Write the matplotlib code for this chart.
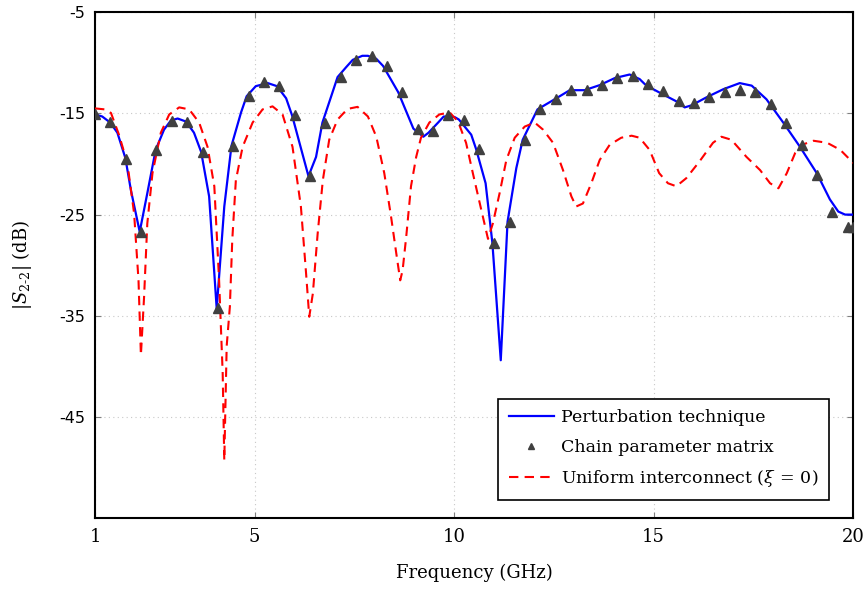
import numpy as np
import matplotlib
matplotlib.use("Agg")
import matplotlib.pyplot as plt

plt.rcParams['font.family'] = 'DejaVu Serif'
plt.rcParams['mathtext.fontset'] = 'dejavuserif'

# chain parameter matrix samples (triangles)
chain_freq = np.append(np.arange(1, 19.9, 0.385), 20.0)
chain_db = [-15.1, -15.8, -19.5, -26.7, -18.6, -15.7, -15.8, -18.8, -34.2, -18.2,
            -13.3, -11.9, -12.3, -15.2, -21.2, -15.9, -11.4, -9.7, -9.3, -10.3,
            -12.9, -16.5, -16.7, -15.2, -15.6, -18.5, -27.8, -25.7, -17.6, -14.6,
            -13.6, -12.7, -12.7, -12.2, -11.5, -11.3, -12.1, -12.8, -13.8, -14.0,
            -13.4, -12.9, -12.7, -12.9, -14.1, -15.9, -18.1, -21.1, -24.7, -26.2,
            -26.2]

# perturbation technique (solid blue)
pert_freq = [1.00, 1.18, 1.38, 1.56, 1.76, 1.90, 2.12, 2.31, 2.52, 2.73,
             2.90, 3.07, 3.28, 3.48, 3.66, 3.86, 4.05, 4.24, 4.42, 4.66,
             4.80, 5.03, 5.33, 5.56, 5.79, 5.94, 6.35, 6.54, 6.70, 6.92,
             7.08, 7.30, 7.46, 7.70, 7.84, 8.05, 8.22, 8.60, 8.98, 9.23,
             9.36, 9.60, 9.74, 10.01, 10.12, 10.43, 10.55, 10.79, 10.96, 11.17,
             11.34, 11.56, 11.72, 11.93, 12.09, 12.52, 12.90, 13.27, 13.65, 14.03,
             14.40, 14.65, 14.78, 14.99, 15.18, 15.57, 15.78, 15.95, 16.33, 16.75,
             17.16, 17.46, 17.83, 18.25, 18.67, 19.09, 19.42, 19.63, 19.80, 20.00]
pert_db = [-15.1, -15.3, -15.9, -16.9, -19.4, -22.6, -26.7, -22.9, -18.6, -16.6,
           -15.7, -15.5, -15.8, -16.9, -18.8, -23.2, -34.3, -24.2, -18.2, -14.9,
           -13.3, -12.3, -12.0, -12.3, -13.5, -15.2, -21.2, -19.3, -15.9, -13.3,
           -11.4, -10.4, -9.7, -9.3, -9.3, -9.6, -10.3, -12.9, -16.5, -17.3,
           -16.9, -15.9, -15.3, -15.35, -15.6, -17.1, -18.5, -21.9, -27.8, -39.4,
           -25.7, -20.4, -17.6, -15.9, -14.6, -13.6, -12.7, -12.7, -12.2, -11.5,
           -11.15, -11.6, -12.1, -12.6, -13.0, -13.8, -14.4, -14.2, -13.4, -12.6,
           -12.0, -12.25, -13.6, -15.9, -18.3, -20.9, -23.5, -24.7, -25.0, -25.0]

# uniform interconnect (dashed red)
unif_freq = [1.00, 1.25, 1.40, 1.60, 1.81, 1.98, 2.09, 2.15, 2.23, 2.31,
             2.44, 2.65, 2.86, 3.11, 3.36, 3.61, 3.82, 3.99, 4.11, 4.20,
             4.24, 4.30, 4.38, 4.44, 4.53, 4.70, 4.95, 5.20, 5.45, 5.70,
             5.95, 6.16, 6.29, 6.37, 6.46, 6.58, 6.71, 6.87, 7.08, 7.33,
             7.58, 7.84, 8.05, 8.25, 8.42, 8.55, 8.65, 8.71, 8.80, 8.92,
             9.05, 9.17, 9.38, 9.63, 9.89, 10.10, 10.30, 10.47, 10.68, 10.85,
             10.97, 11.14, 11.31, 11.52, 11.77, 12.02, 12.23, 12.48, 12.73, 12.94,
             13.06, 13.23, 13.44, 13.65, 13.90, 14.19, 14.45, 14.65, 14.90, 15.14,
             15.36, 15.57, 15.82, 16.15, 16.49, 16.70, 16.95, 17.33, 17.67, 17.92,
             18.13, 18.34, 18.55, 18.72, 19.01, 19.35, 19.68, 19.97, 20.00]
unif_db = [-14.5, -14.6, -14.95, -17.1, -19.9, -24.9, -31.5, -38.9, -33.1, -25.9,
           -20.9, -16.9, -15.1, -14.4, -14.6, -15.9, -18.3, -22.2, -31.5, -40.7,
           -49.3, -38.0, -34.1, -27.5, -21.6, -18.3, -15.9, -14.6, -14.3, -15.1,
           -18.3, -24.2, -30.8, -35.1, -32.8, -26.9, -21.6, -17.6, -15.6, -14.55,
           -14.35, -15.3, -17.3, -20.9, -25.2, -28.8, -31.5, -30.5, -27.2, -22.2,
           -19.3, -17.4, -15.9, -15.1, -14.9, -15.8, -17.9, -20.9, -24.5, -27.4,
           -25.9, -22.9, -19.6, -17.4, -16.3, -15.9, -16.6, -17.9, -20.6, -23.2,
           -24.2, -23.9, -21.9, -19.6, -18.1, -17.4, -17.2, -17.4, -18.6, -20.9,
           -21.9, -22.2, -21.4, -19.75, -17.9, -17.3, -17.6, -19.3, -20.6, -21.9,
           -22.4, -20.9, -18.9, -18.1, -17.7, -17.9, -18.6, -19.75, -19.9]

xticks = [1, 5, 10, 15, 20]
yticks = [-5, -15, -25, -35, -45]
ytick_labels = ['-5', '-15', '-25', '-35', '-45']

fig = plt.figure(figsize=(8.67, 5.89), dpi=100)
ax = fig.add_axes([0.1096, 0.1205, 0.8743, 0.8586])

ax.plot(pert_freq, pert_db, color='blue', lw=1.6, label='Perturbation technique', zorder=3)
ax.plot(chain_freq, chain_db, linestyle='none', marker='^', ms=6.5, color='#404040',
        label='Chain parameter matrix', zorder=4)
ax.plot(unif_freq, unif_db, color='red', lw=1.5, ls=(0, (4.5, 3)),
        label=r'Uniform interconnect ($\xi\,=\,0$)', zorder=3)

ax.set_xlim(1, 20)
ax.set_ylim(-55, -5)
ax.set_xticks(xticks)
ax.set_xticklabels([str(t) for t in xticks], fontsize=13)
ax.set_yticks(yticks)
ax.set_yticklabels(ytick_labels, fontsize=11.5, family='DejaVu Sans')

ax.grid(True, color='#c8c8c8', ls=(0, (1, 3)), lw=0.8)
ax.tick_params(direction='in', length=4, color='#808080', top=True, right=True, pad=7)
for s in ax.spines.values():
    s.set_linewidth(1.5)

ax.set_xlabel('Frequency (GHz)', fontsize=13, labelpad=13)
ax.set_ylabel(r'$|S_{2\text{-}2}|$ (dB)', fontsize=13, labelpad=18)

leg = ax.legend(loc='lower right', bbox_to_anchor=(0.968, 0.036), borderaxespad=0,
                fontsize=12.5, fancybox=False, framealpha=1, edgecolor='black',
                handlelength=2.6, handletextpad=0.4, borderpad=0.6,
                labelspacing=0.72, markerscale=0.6)
leg.get_frame().set_linewidth(1.2)

fig.savefig('out.png', dpi=100)
